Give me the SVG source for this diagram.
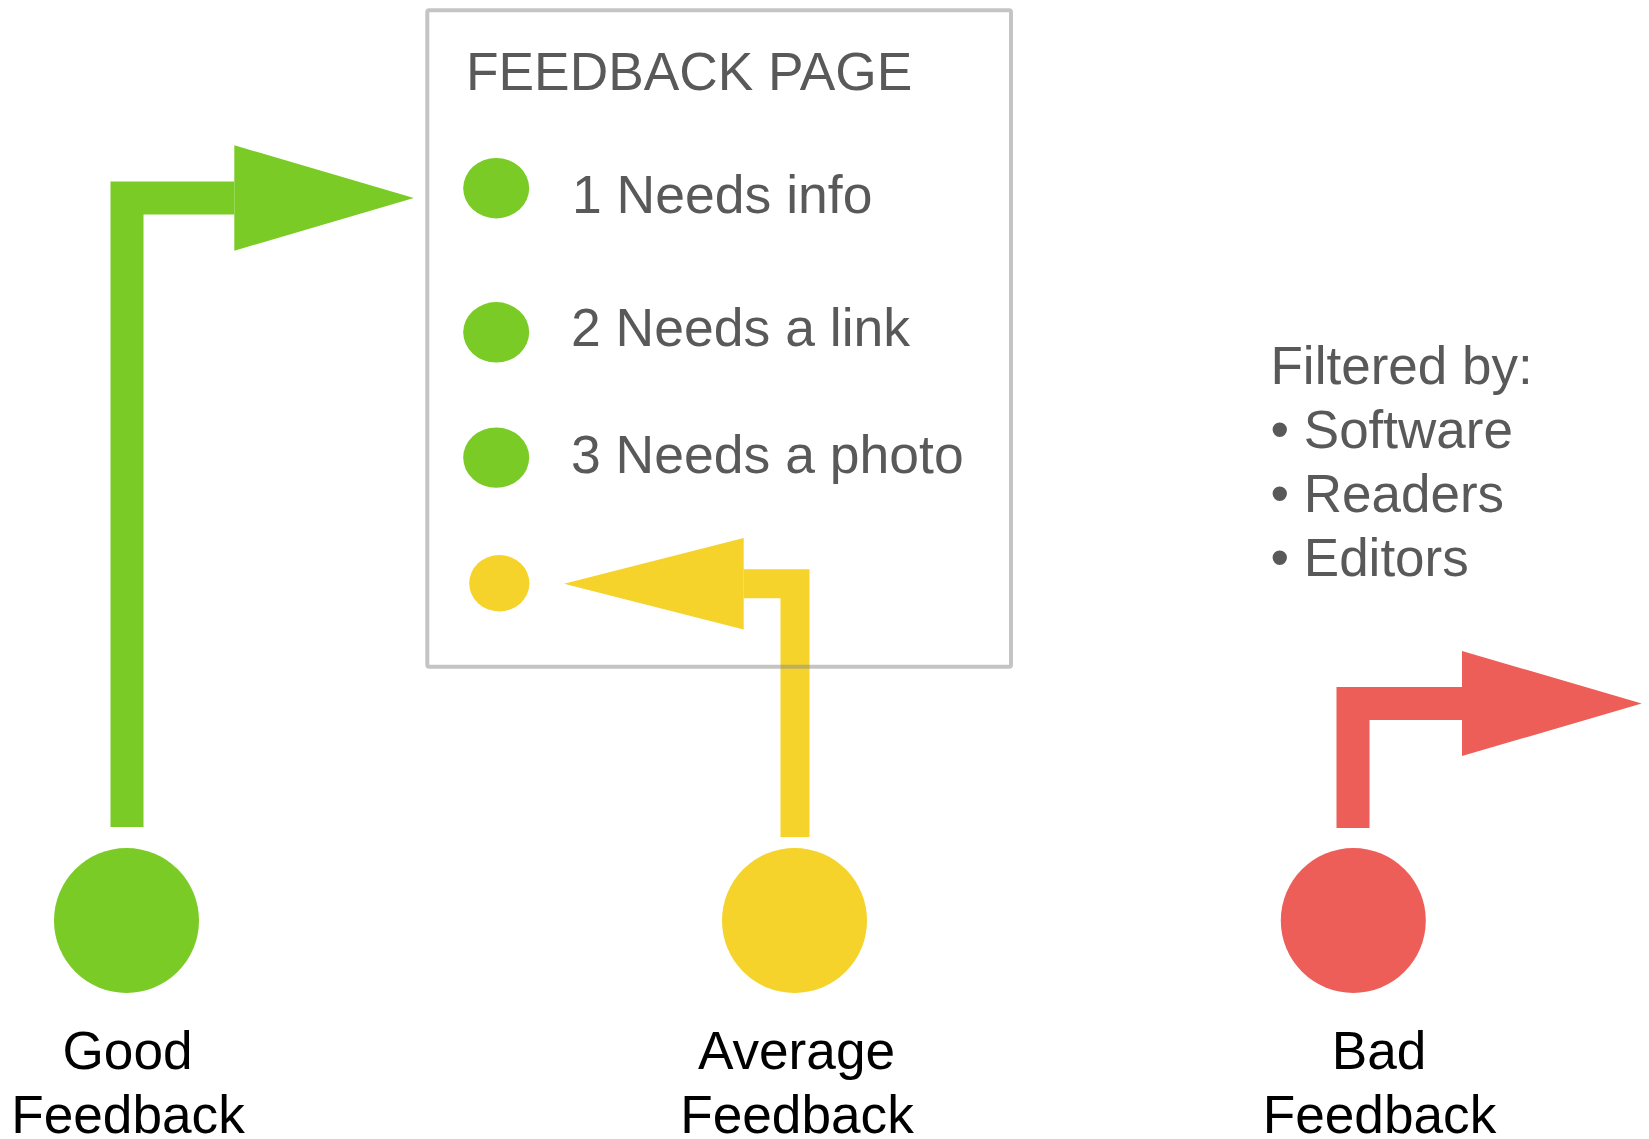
<svg xmlns="http://www.w3.org/2000/svg" width="1649" height="1139" viewBox="0 0 1649 1139">
<style>
.t{font-family:"Liberation Sans",Arial,sans-serif;fill:#595959}
.lbl{font-family:"Liberation Sans",Arial,sans-serif;fill:#000;font-size:53.2px;text-anchor:middle}
.conn{fill:none;stroke-linejoin:miter;stroke-linecap:butt}
</style>
<defs>
<marker id="mg" markerUnits="userSpaceOnUse" markerWidth="181" markerHeight="107" viewBox="0 -53.5 181 107" refX="0" refY="0" orient="auto" overflow="visible"><path d="M0,-52.7 L179.5,0 L0,52.7 Z" fill="#7ACB25"/></marker>
<marker id="my" markerUnits="userSpaceOnUse" markerWidth="181" markerHeight="93" viewBox="0 -46.5 181 93" refX="0" refY="0" orient="auto" overflow="visible"><path d="M0,-45.7 L179.7,0 L0,45.7 Z" fill="#F5D32A"/></marker>
<marker id="mr" markerUnits="userSpaceOnUse" markerWidth="181" markerHeight="107" viewBox="0 -53.5 181 107" refX="0" refY="0" orient="auto" overflow="visible"><path d="M0,-52.5 L179.7,0 L0,52.5 Z" fill="#EC5E57"/></marker>
</defs>
<rect width="1649" height="1139" fill="#fff"/>
<g id="connectors">
<path class="conn" d="M127,827 V198 H234.3" stroke="#7ACB25" stroke-width="33" marker-end="url(#mg)"/>
<path class="conn" d="M795,837 V583.7 H743.7" stroke="#F5D32A" stroke-width="29" marker-end="url(#my)"/>
<path class="conn" d="M1353,828 V703.5 H1462" stroke="#EC5E57" stroke-width="33" marker-end="url(#mr)"/>
</g>
<g id="feedback-page">
<rect x="427.3" y="10.3" width="583.7" height="656.4" rx="2" fill="none" stroke="#8a8a8a" stroke-opacity="0.5" stroke-width="4"/>
<text class="t" x="466" y="90" font-size="53.3">FEEDBACK PAGE</text>
<g id="item1"><ellipse cx="496.2" cy="188.2" rx="33" ry="30.2" fill="#7ACB25"/><text class="t" x="572" y="212.5" font-size="53.5">1 Needs info</text></g>
<g id="item2"><ellipse cx="496.2" cy="332.3" rx="33" ry="30.2" fill="#7ACB25"/><text class="t" x="571" y="345.8" font-size="53.5">2 Needs a link</text></g>
<g id="item3"><ellipse cx="496.2" cy="457.6" rx="33" ry="30.2" fill="#7ACB25"/><text class="t" x="571" y="472.8" font-size="53.5">3 Needs a photo</text></g>
<g id="item4"><ellipse cx="499.3" cy="583.2" rx="30.1" ry="28.2" fill="#F5D32A"/></g>
</g>
<g id="filters">
<text class="t" font-size="53"><tspan x="1270.5" y="384">Filtered by:</tspan><tspan x="1270.5" y="448.3">• Software</tspan><tspan x="1270.5" y="512.3">• Readers</tspan><tspan x="1270.5" y="576">• Editors</tspan></text>
</g>
<g id="good">
<circle cx="126.5" cy="920.5" r="72.5" fill="#7ACB25"/>
<text class="lbl"><tspan x="127.5" y="1069">Good</tspan><tspan x="128" y="1132.7">Feedback</tspan></text>
</g>
<g id="average">
<circle cx="794.5" cy="920.5" r="72.5" fill="#F5D32A"/>
<text class="lbl"><tspan x="796.5" y="1069">Average</tspan><tspan x="797" y="1132.7">Feedback</tspan></text>
</g>
<g id="bad">
<circle cx="1353.3" cy="920.5" r="72.5" fill="#EC5E57"/>
<text class="lbl"><tspan x="1379" y="1069">Bad</tspan><tspan x="1379.5" y="1132.7">Feedback</tspan></text>
</g>
</svg>
